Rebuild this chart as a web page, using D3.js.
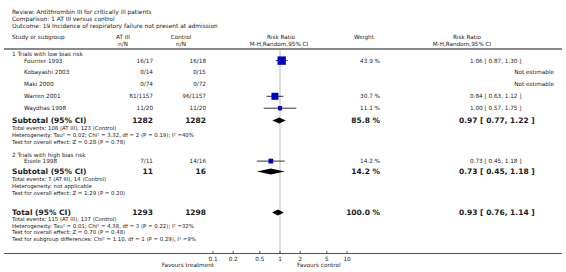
<!DOCTYPE html>
<html>
<head>
<meta charset="utf-8">
<script src="https://d3js.org/d3.v7.min.js"></script>
<style>
  body { margin: 0; background: #fff; }
  text { font-family: "DejaVu Sans", sans-serif; fill: #1a1a1a; }
</style>
</head>
<body>
<script>
// ---- data ----
var headerLines = [
  "Review:  Antithrombin III for critically ill patients",
  "Comparison:  1 AT III versus control",
  "Outcome:  19 Incidence of respiratory failure not present at admission"
];
var studies  = ["Fourrier 1993", "Kobayashi 2003", "Maki 2000", "Warren 2001", "Waydhas 1998", "Eisele 1998"];
var group    = [0, 0, 0, 0, 0, 1];
var atIII    = ["16/17", "0/14", "0/74", "81/1157", "11/20", "7/11"];
var control  = ["16/18", "0/15", "0/72", "96/1157", "11/20", "14/16"];
var weight   = [43.9, null, null, 30.7, 11.1, 14.2];
var rr       = [1.06, null, null, 0.84, 1.00, 0.73];
var rrLo     = [0.87, null, null, 0.63, 0.57, 0.45];
var rrHi     = [1.30, null, null, 1.12, 1.75, 1.18];

var groupNames  = ["1 Trials with low bias risk", "2 Trials with high bias risk"];
var subAtN      = [1282, 11];
var subCtlN     = [1282, 16];
var subWeight   = [85.8, 14.2];
var subRR       = [0.97, 0.73];
var subLo       = [0.77, 0.45];
var subHi       = [1.22, 1.18];
var subInfo = [
  ["Total events: 108 (AT III), 123 (Control)",
   "Heterogeneity: Tau\u00b2 = 0.02; Chi\u00b2 = 3.32, df = 2 (P = 0.19); I\u00b2 =40%",
   "Test for overall effect: Z = 0.28 (P = 0.78)"],
  ["Total events: 7 (AT III), 14 (Control)",
   "Heterogeneity: not applicable",
   "Test for overall effect: Z = 1.29 (P = 0.20)"]
];

var totAtN = 1293, totCtlN = 1298, totWeight = 100.0;
var totRR = 0.93, totLo = 0.76, totHi = 1.14;
var totInfo = [
  "Total events: 115 (AT III), 137 (Control)",
  "Heterogeneity: Tau\u00b2 = 0.01; Chi\u00b2 = 4.38, df = 3 (P = 0.22); I\u00b2 =32%",
  "Test for overall effect: Z = 0.70 (P = 0.48)",
  "Test for subgroup differences: Chi\u00b2 = 1.10, df = 1 (P = 0.29), I\u00b2 =9%"
];

var tickValues = [0.1, 0.2, 0.5, 1, 2, 5, 10];
var tickLabels = ["0.1", "0.2", "0.5", "1", "2", "5", "10"];

// ---- layout ----
var width = 566, height = 272;
var fs = 5.7, fsInfo = 5.4, fsBold = 7.5;
var colStudy = 12, colIndent = 24, colAt = 153, colCtl = 206,
    colW = 380, colCI = 470, colCIbold = 459, colNE = 554;

var svg = d3.select("body").append("svg")
  .attr("width", width).attr("height", height);

var x = d3.scaleLog().domain([0.1, 10]).range([213, 347]);
var f2 = d3.format(".2f");
function ciText(m, l, h) { return f2(m) + " [ " + f2(l) + ", " + f2(h) + " ]"; }

function txt(s, xx, yy, anchor, size, bold) {
  return svg.append("text")
    .attr("x", xx).attr("y", yy)
    .attr("text-anchor", anchor || "start")
    .style("font-size", (size || fs) + "px")
    .style("font-weight", bold ? "bold" : "normal")
    .text(s);
}

// header block
headerLines.forEach(function(s, i) { txt(s, colStudy, 14 + i * 7, "start", 5.9); });

txt("Study or subgroup", colStudy, 39);
txt("AT III", 123, 39, "middle");
txt("n/N", 123, 45.5, "middle");
txt("Control", 181, 39, "middle");
txt("n/N", 181, 45.5, "middle");
txt("Risk Ratio", 281, 39, "middle");
txt("M-H,Random,95% CI", 279, 45.5, "middle");
txt("Weight", 364, 39, "middle");
txt("Risk Ratio", 467, 39, "middle");
txt("M-H,Random,95% CI", 462, 45.5, "middle");

svg.append("line").attr("x1", 4).attr("x2", 562).attr("y1", 49).attr("y2", 49)
  .attr("stroke", "#8a8a8a").attr("stroke-width", 2);

// reference line at RR = 1
svg.append("line").attr("x1", x(1)).attr("x2", x(1)).attr("y1", 50).attr("y2", 253)
  .attr("stroke", "#dcdcdc").attr("stroke-width", 2);

// row positions
var groupTop = [56, 156.5];
var rowStep = 11.9;
var idxInGroup = studies.map(function(d, i) {
  return group.slice(0, i).filter(function(g) { return g === group[i]; }).length;
});
var rowY = studies.map(function(d, i) {
  return groupTop[group[i]] + 6.5 + idxInGroup[i] * rowStep;
});
var sqScale = d3.scaleSqrt().domain([0, 43.9]).range([0, 8.4]);

groupNames.forEach(function(g, gi) {
  txt(g, colStudy, groupTop[gi]);
});

studies.forEach(function(s, i) {
  var y = rowY[i];
  txt(s, colIndent, y);
  txt(atIII[i], colAt, y, "end");
  txt(control[i], colCtl, y, "end");
  if (rr[i] == null) {
    txt("Not estimable", colNE, y, "end");
    return;
  }
  txt(weight[i].toFixed(1) + " %", colW, y, "end");
  txt(ciText(rr[i], rrLo[i], rrHi[i]), colCI, y);
  var cy = y - 1.9;
  svg.append("line").attr("x1", x(rrLo[i])).attr("x2", x(rrHi[i]))
    .attr("y1", cy).attr("y2", cy).attr("stroke", "#000").attr("stroke-width", 0.8);
  var s2 = sqScale(weight[i]);
  svg.append("rect").attr("x", x(rr[i]) - s2 / 2).attr("y", cy - s2 / 2)
    .attr("width", s2).attr("height", s2).attr("fill", "#0000cc");
});

function diamond(m, l, h, cy, hh) {
  var pts = [[x(l), cy], [x(m), cy - hh], [x(h), cy], [x(m), cy + hh]];
  svg.append("path").attr("d", d3.line()(pts) + "Z").attr("fill", "#000");
}

// subtotals
var subY = [123, 174];
groupNames.forEach(function(g, gi) {
  var y = subY[gi];
  txt("Subtotal (95% CI)", colStudy, y, "start", fsBold, true);
  txt(subAtN[gi], colAt, y, "end", fsBold, true);
  txt(subCtlN[gi], colCtl, y, "end", fsBold, true);
  txt(subWeight[gi].toFixed(1) + " %", colW, y, "end", fsBold, true);
  txt(ciText(subRR[gi], subLo[gi], subHi[gi]), colCIbold, y, "start", fsBold, true);
  diamond(subRR[gi], subLo[gi], subHi[gi], y - 2.5, 3);
  subInfo[gi].forEach(function(s, k) { txt(s, colStudy, y + 7 + k * 6.8, "start", fsInfo); });
});

// total
var totY = 215;
txt("Total (95% CI)", colStudy, totY, "start", fsBold, true);
txt(totAtN, colAt, totY, "end", fsBold, true);
txt(totCtlN, colCtl, totY, "end", fsBold, true);
txt(totWeight.toFixed(1) + " %", colW, totY, "end", fsBold, true);
txt(ciText(totRR, totLo, totHi), colCIbold, totY, "start", fsBold, true);
diamond(totRR, totLo, totHi, totY - 2.5, 3);
totInfo.forEach(function(s, k) { txt(s, colStudy, totY + 6 + k * 6.6, "start", fsInfo); });

// axis
svg.append("line").attr("x1", 4).attr("x2", 562).attr("y1", 253.5).attr("y2", 253.5)
  .attr("stroke", "#555").attr("stroke-width", 1.2);
var axis = svg.append("g");
tickValues.forEach(function(v, i) {
  axis.append("line").attr("x1", x(v)).attr("x2", x(v)).attr("y1", 251).attr("y2", 253.5)
    .attr("stroke", "#333").attr("stroke-width", 0.8);
  txt(tickLabels[i], x(v), 260.5, "middle");
});
txt("Favours treatment", 214, 267, "end");
txt("Favours control", 297, 267, "start");
</script>
</body>
</html>
